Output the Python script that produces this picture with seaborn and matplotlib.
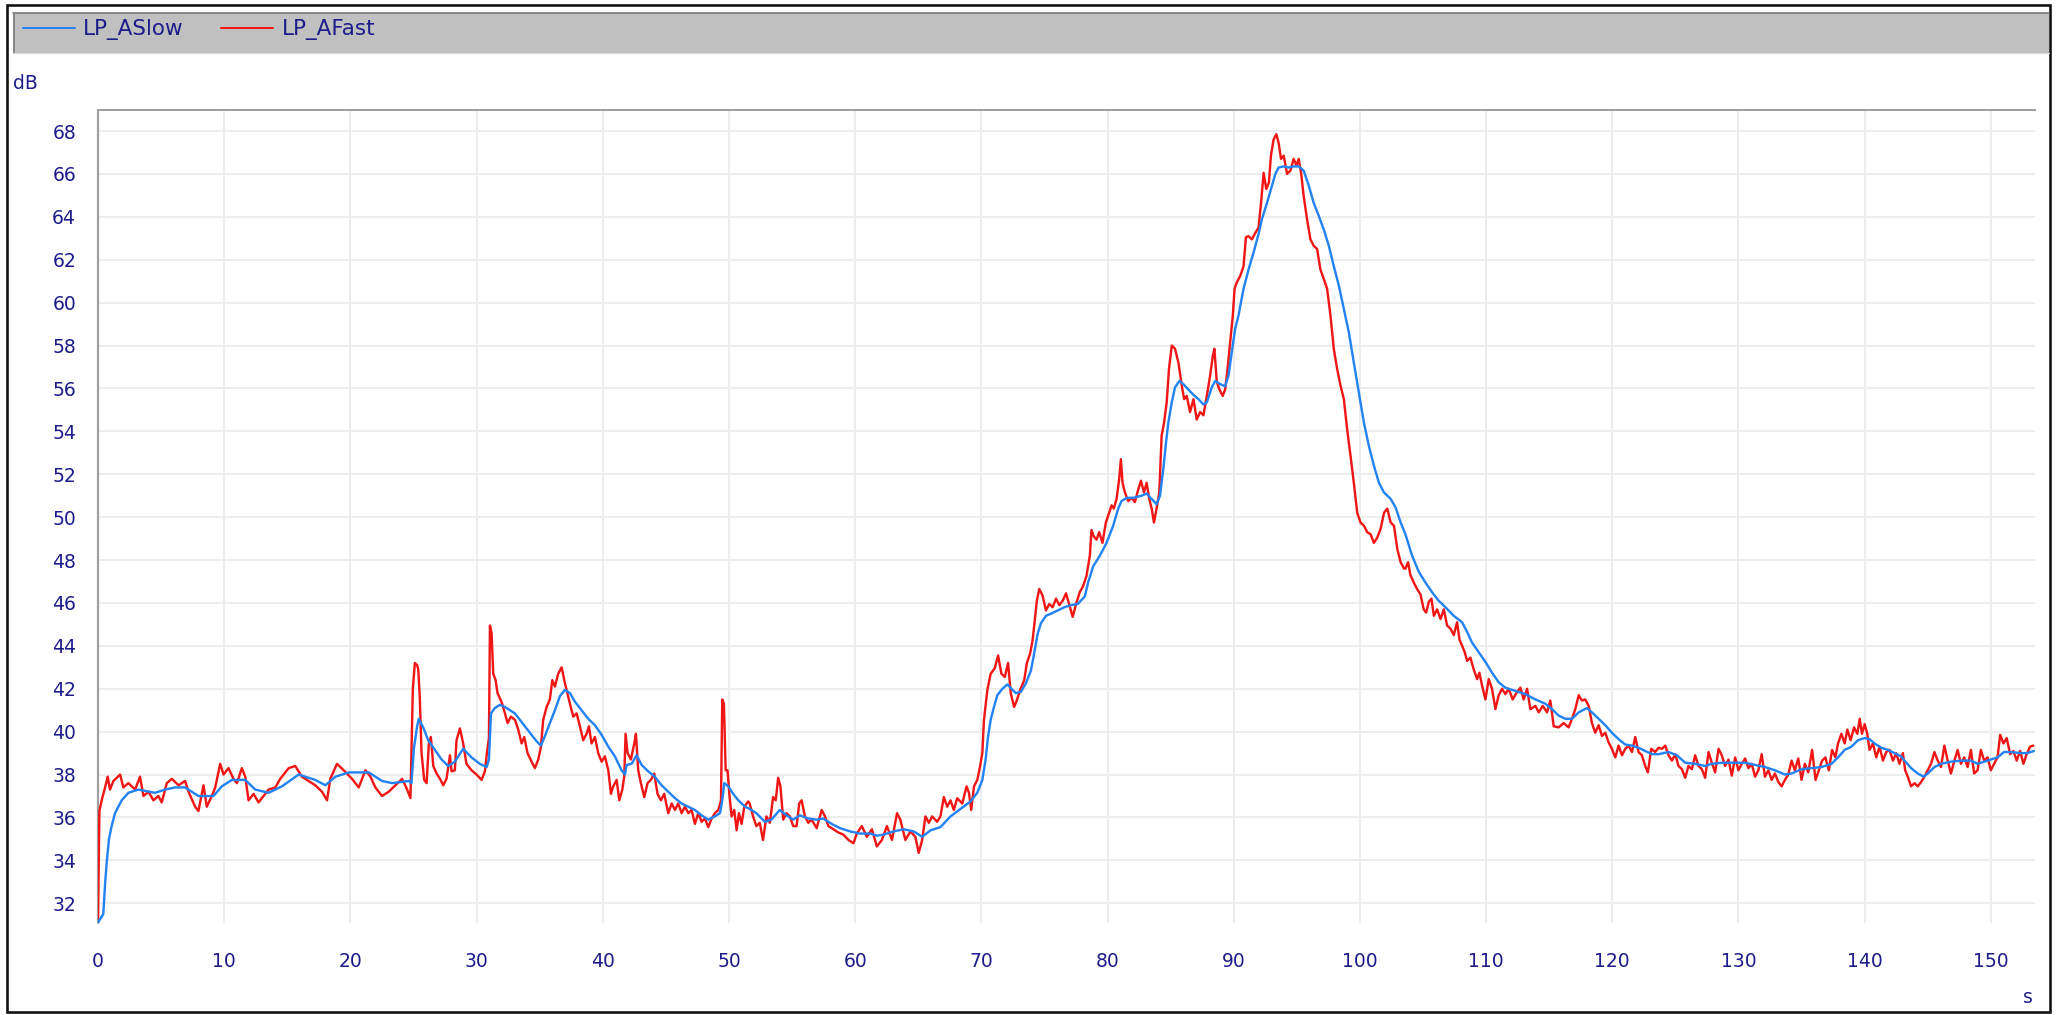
import matplotlib
matplotlib.use("Agg")
import matplotlib.pyplot as plt
from matplotlib.patches import Rectangle
from matplotlib.lines import Line2D
import pandas as pd
import seaborn as sns

# ---- sound level recording: A-weighted level, slow and fast time weighting ----
slow_t = [
    0.0, 0.42, 0.56, 0.69, 0.87, 1.08, 1.35, 1.61, 1.88, 2.41, 3.2, 4.52, 5.32, 6.11, 6.9, 7.96,
    9.15, 9.81, 10.61, 11.67, 12.46, 13.52, 14.58, 15.9, 17.22, 18.02, 18.81, 19.87, 21.46, 22.51,
    23.31, 24.63, 24.84, 25.03, 25.29, 25.42,
    25.77, 26.17, 26.7, 27.23, 27.75, 28.28, 28.94, 29.6, 30.26, 30.8, 30.98, 31.14, 31.45, 31.85,
    32.25, 32.64, 33.04, 33.43, 33.83, 34.36, 34.76, 35.1, 35.42, 35.81, 36.21, 36.6, 37.0, 37.4,
    37.79, 38.32, 38.85, 39.38, 39.91, 40.44, 40.96, 41.49, 41.76, 41.89, 42.29, 42.68, 43.08, 43.6,
    44.13, 44.66, 45.19, 45.72, 46.25, 46.78, 47.3, 47.83, 48.36, 48.89, 49.29, 49.47, 49.63, 49.95,
    50.34, 50.74, 51.27,
    51.64, 52.17, 52.84, 53.37, 54.03, 54.56, 55.09, 55.62, 56.29, 56.95, 57.48, 58.14, 58.81, 59.6,
    60.4, 61.19, 61.72, 62.25, 63.05, 63.85, 64.64, 65.31, 65.97, 66.76, 67.56, 68.36, 69.15, 69.68,
    70.08, 70.34, 70.53, 70.74, 71.0, 71.27, 71.67, 72.07, 72.47, 72.73, 73.13, 73.53, 73.93, 74.19,
    74.46, 74.72, 75.12, 75.52, 76.05, 76.58, 77.11, 77.64,
    78.2, 78.46, 78.86, 79.39, 79.92, 80.45, 80.85, 81.11, 81.51, 82.04, 82.7, 83.1, 83.5, 83.89,
    84.16, 84.42, 84.64, 84.82, 85.09, 85.35, 85.7, 86.01, 86.41, 86.81, 87.21, 87.6, 87.87, 88.26,
    88.53, 88.93, 89.32, 89.59, 89.85, 90.12, 90.38, 90.78, 91.18, 91.58, 91.97, 92.24, 92.64, 93.03,
    93.3, 93.56, 93.96, 94.36, 94.75, 95.15, 95.55, 95.95, 96.34, 96.74, 97.14, 97.54, 97.93, 98.33,
    98.73, 99.13, 99.52, 99.92, 100.32, 100.72, 101.11, 101.51, 101.91, 102.44, 102.83, 103.23,
    103.61, 104.14, 104.67, 105.2, 105.72, 106.25, 106.78, 107.44, 108.1, 108.5, 108.89, 109.42,
    109.95, 110.47, 111.0, 111.53, 112.32, 113.11, 113.91, 114.7, 115.22, 115.75, 116.28, 116.81,
    117.34, 117.99, 118.39, 118.92, 119.45, 119.97, 120.5, 121.03, 121.56, 122.08, 122.61, 123.14,
    123.67, 124.46, 125.12, 125.78, 126.57, 127.36, 127.89, 128.68, 129.47,
    130.53, 131.32, 132.1, 132.89, 133.68, 134.21, 135.0, 135.79, 136.58, 137.37, 137.89, 138.42,
    138.95, 139.47, 140.0, 140.39, 140.79, 141.32, 141.84, 142.37, 142.89, 143.16, 143.68, 144.21,
    144.68, 145.0, 145.53, 146.05, 146.84, 147.63, 148.42, 148.95, 149.74, 150.53, 151.05, 151.58,
    152.37, 152.89, 153.42,
]
slow_db = [
    31.1, 31.5, 32.9, 33.9, 35.0, 35.6, 36.2, 36.5, 36.8, 37.15, 37.3, 37.15, 37.3, 37.4, 37.4, 37.0,
    37.0, 37.45, 37.75, 37.75, 37.3, 37.15, 37.45, 38.0, 37.75, 37.5, 37.9, 38.1, 38.1, 37.7,
    37.6, 37.7, 37.6, 39.2, 40.25, 40.6,
    40.2, 39.6, 39.15, 38.7, 38.4, 38.6, 39.2, 38.8, 38.5, 38.35, 38.7, 40.85, 41.1, 41.25,
    41.15, 41.0, 40.85, 40.55, 40.25, 39.85, 39.55, 39.35, 39.8, 40.4, 41.0, 41.65, 41.95, 41.8,
    41.4, 41.0, 40.6, 40.3, 39.85, 39.3, 38.85, 38.2, 38.0, 38.45, 38.5, 38.9, 38.45, 38.15,
    37.9, 37.5, 37.2, 36.9, 36.65, 36.5, 36.35, 36.1, 35.9, 36.05, 36.2, 36.8, 37.6, 37.45,
    37.1, 36.8, 36.5,
    36.4, 36.2, 35.8, 35.9, 36.35, 36.1, 35.9, 36.1, 35.95, 35.9, 35.95, 35.7, 35.5, 35.35,
    35.25, 35.25, 35.15, 35.2, 35.35, 35.45, 35.35, 35.1, 35.4, 35.55, 36.05, 36.4, 36.75, 37.15,
    37.75, 38.7, 39.75, 40.55, 41.15, 41.7, 42.0, 42.2, 41.95, 41.8, 41.85, 42.25, 42.85, 43.65,
    44.55, 45.05, 45.4, 45.5, 45.65, 45.8, 45.9, 45.95,
    46.3, 46.95, 47.7, 48.2, 48.8, 49.6, 50.4, 50.75, 50.9, 50.9, 51.0, 51.1, 50.85, 50.6,
    51.0, 52.25, 53.5, 54.4, 55.35, 56.05, 56.35, 56.2, 55.95, 55.7, 55.5, 55.25, 55.35, 56.05,
    56.35, 56.2, 56.1, 56.6, 57.7, 58.8, 59.4, 60.65, 61.55, 62.35, 63.2, 63.9, 64.65, 65.45,
    66.0, 66.3, 66.35, 66.3, 66.35, 66.35, 66.15, 65.45, 64.65, 64.05, 63.4, 62.65, 61.7, 60.8,
    59.7, 58.6, 57.2, 55.8, 54.4, 53.3, 52.4, 51.6, 51.15, 50.85, 50.45, 49.75,
    49.2, 48.2, 47.45, 46.95, 46.5, 46.1, 45.8, 45.4, 45.1, 44.65, 44.15, 43.7,
    43.25, 42.75, 42.3, 42.05, 41.9, 41.75, 41.5, 41.3, 41.05, 40.75, 40.6, 40.6,
    40.9, 41.1, 40.9, 40.6, 40.3, 39.95, 39.65, 39.4, 39.35, 39.25, 39.1, 38.95,
    38.95, 39.05, 38.9, 38.55, 38.5, 38.4, 38.5, 38.55, 38.55,
    38.55, 38.45, 38.35, 38.2, 38.0, 38.05, 38.25, 38.3, 38.35, 38.5, 38.8, 39.15,
    39.3, 39.6, 39.7, 39.65, 39.45, 39.25, 39.15, 39.0, 38.85, 38.65, 38.3, 38.05,
    37.9, 38.05, 38.35, 38.5, 38.6, 38.65, 38.65, 38.5, 38.65, 38.8, 39.05, 39.05,
    39.0, 39.0, 39.1,
]

fast_t = [
    0.0, 0.11, 0.29, 0.56, 0.77, 0.95, 1.22, 1.75, 2.01, 2.41, 2.94, 3.33, 3.6, 4.0, 4.39, 4.79,
    5.05, 5.45, 5.85, 6.38, 6.9, 7.17, 7.7, 7.96, 8.36, 8.62, 9.02, 9.29, 9.68, 9.95, 10.34, 10.74,
    11.01, 11.4, 11.67, 11.93, 12.33, 12.72, 13.12, 13.52, 14.05, 14.44, 15.11, 15.63, 16.16, 16.69,
    17.22, 17.75, 18.15, 18.41, 18.94, 19.47, 20.13, 20.66, 21.19, 21.59, 21.98, 22.51, 23.04, 23.57,
    24.1, 24.5, 24.76, 24.84, 24.95, 25.11, 25.29,
    25.38, 25.5, 25.64, 25.85, 26.04, 26.22, 26.38, 26.57, 26.83, 27.1, 27.36, 27.62, 27.89, 28.02,
    28.28, 28.41, 28.68, 28.94, 29.2, 29.6, 30.0, 30.4, 30.66, 30.85, 30.98, 31.06, 31.19, 31.32,
    31.51, 31.66, 31.85, 32.03, 32.25, 32.46, 32.72, 33.04, 33.3, 33.57, 33.78, 34.04, 34.36, 34.62,
    34.89, 35.1, 35.28, 35.55, 35.81, 36.0, 36.21, 36.47, 36.74, 36.95, 37.13, 37.4, 37.66, 37.93,
    38.19, 38.45, 38.72, 38.9, 39.11, 39.38, 39.64, 39.91, 40.17, 40.44, 40.65, 40.83, 41.1, 41.31,
    41.55, 41.7, 41.81, 41.97, 42.23, 42.5, 42.63, 42.81, 43.02, 43.29, 43.55, 43.81, 44.08, 44.34,
    44.61, 44.87, 45.19, 45.46, 45.72, 45.98, 46.25, 46.51, 46.78, 47.04, 47.3, 47.57, 47.83, 48.1,
    48.36, 48.63, 48.89, 49.16, 49.37, 49.47, 49.6, 49.74, 49.89, 50.03, 50.21, 50.42, 50.61, 50.79,
    51.0, 51.22, 51.53,
    51.64, 51.91, 52.17, 52.44, 52.7, 52.97, 53.24, 53.5, 53.71, 53.9, 54.08, 54.3, 54.56, 54.83,
    55.09, 55.36, 55.57, 55.76, 56.02, 56.29, 56.55, 56.95, 57.35, 57.61, 57.88, 58.28, 58.67, 59.07,
    59.47, 59.87, 60.13, 60.53, 60.93, 61.33, 61.72, 62.12, 62.52, 62.92, 63.32, 63.58, 63.98, 64.38,
    64.77, 65.04, 65.31, 65.57, 65.84, 66.1, 66.5, 66.76, 67.03, 67.29, 67.56, 67.82, 68.09, 68.49,
    68.83, 69.02, 69.2, 69.42, 69.68, 69.89, 70.08, 70.21, 70.48, 70.74, 71.06, 71.33, 71.59, 71.86,
    72.12, 72.33, 72.6, 72.81, 73.08, 73.4, 73.61, 73.87, 74.06, 74.24, 74.4, 74.59, 74.85, 75.12,
    75.38, 75.65, 75.92, 76.18, 76.45, 76.71, 76.98, 77.24, 77.51,
    77.8, 78.07, 78.33, 78.6, 78.73, 78.91, 79.13, 79.34, 79.6, 79.87, 80.13, 80.32, 80.5, 80.72,
    80.93, 81.06, 81.19, 81.38, 81.64, 81.91, 82.17, 82.44, 82.65, 82.89, 83.1, 83.31, 83.5, 83.68,
    83.89, 84.1, 84.29, 84.48, 84.69, 84.87, 85.09, 85.35, 85.62, 85.88, 86.07, 86.28, 86.54, 86.81,
    87.07, 87.34, 87.6, 87.87, 88.13, 88.34, 88.47, 88.66, 88.87, 89.13, 89.32, 89.51, 89.72, 89.93,
    90.07, 90.25, 90.52, 90.78, 90.97, 91.18, 91.44, 91.71, 91.97, 92.19, 92.37, 92.58, 92.79, 92.95,
    93.16, 93.38, 93.56, 93.75, 93.96, 94.23, 94.49, 94.75, 94.97, 95.15, 95.34, 95.55, 95.81, 96.08,
    96.34, 96.61, 96.87, 97.14, 97.4, 97.67, 97.93, 98.2, 98.46, 98.73, 98.99, 99.26, 99.52, 99.79,
    100.05, 100.32, 100.58, 100.85, 101.11, 101.38, 101.64, 101.91, 102.17, 102.44, 102.7, 102.97,
    103.23, 103.5,
    103.61, 103.82, 104.0, 104.27, 104.53, 104.8, 105.06, 105.25, 105.46, 105.67, 105.86, 106.12,
    106.39, 106.65, 106.91, 107.18, 107.44, 107.7, 107.89, 108.1, 108.31, 108.5, 108.76, 109.02,
    109.29, 109.47, 109.68, 109.95, 110.21, 110.47, 110.74, 111.0, 111.27, 111.53, 111.79, 112.11,
    112.45, 112.72, 112.98, 113.25, 113.51, 113.91, 114.17, 114.49, 114.83, 115.09, 115.36, 115.75,
    116.15, 116.54, 116.81, 117.07, 117.34, 117.6, 117.86, 118.13, 118.39, 118.65, 118.92, 119.18,
    119.45, 119.71, 119.97, 120.24, 120.5, 120.77, 121.03, 121.29, 121.56, 121.82, 122.08, 122.35,
    122.61, 122.82, 123.09, 123.4, 123.67, 123.94, 124.2, 124.46, 124.73, 124.99, 125.25, 125.52,
    125.78, 126.04, 126.31, 126.57, 126.83, 127.1, 127.36, 127.63, 127.89, 128.15, 128.42, 128.68,
    128.94, 129.21, 129.47,
    129.74, 130.0, 130.26, 130.53, 130.79, 131.05, 131.32, 131.58, 131.84, 132.1, 132.37, 132.63,
    132.89, 133.16, 133.42, 133.68, 133.95, 134.21, 134.47, 134.74, 135.0, 135.26, 135.53, 135.84,
    136.11, 136.37, 136.63, 136.89, 137.16, 137.42, 137.68, 137.89, 138.16, 138.42, 138.63, 138.89,
    139.16, 139.42, 139.61, 139.79, 140.0, 140.21, 140.39, 140.66, 140.92, 141.18, 141.45, 141.71,
    141.97, 142.24, 142.5, 142.76, 143.03, 143.21, 143.42, 143.68, 143.95, 144.21, 144.47, 144.74,
    145.0, 145.26, 145.53, 145.79, 146.05, 146.32, 146.58, 146.84, 147.11, 147.37, 147.63, 147.89,
    148.16, 148.42, 148.68, 148.95, 149.21, 149.47, 149.74, 150.0, 150.26, 150.53, 150.74, 151.0,
    151.26, 151.53, 151.79, 152.05, 152.32, 152.58, 152.84, 153.11, 153.37,
]
fast_db = [
    31.1, 36.3, 36.8, 37.4, 37.9, 37.3, 37.7, 38.0, 37.4, 37.6, 37.3, 37.9, 37.0, 37.2, 36.8, 37.0,
    36.7, 37.6, 37.8, 37.5, 37.7, 37.2, 36.5, 36.3, 37.5, 36.5, 37.0, 37.4, 38.5, 38.0, 38.3, 37.8,
    37.6, 38.3, 37.9, 36.8, 37.1, 36.7, 37.0, 37.3, 37.4, 37.8, 38.3, 38.4, 37.9, 37.7,
    37.5, 37.2, 36.8, 37.8, 38.5, 38.2, 37.8, 37.4, 38.2, 37.9, 37.4, 37.0, 37.2, 37.5,
    37.8, 37.3, 36.9, 39.0, 42.0, 43.2, 43.1,
    42.9, 41.6, 39.0, 37.75, 37.6, 39.45, 39.75, 38.4, 38.05, 37.8, 37.5, 37.8, 38.9, 38.15,
    38.2, 39.6, 40.15, 39.45, 38.5, 38.2, 38.0, 37.75, 38.15, 39.15, 39.7, 44.95, 44.6, 42.7,
    42.4, 41.8, 41.55, 41.3, 40.85, 40.4, 40.7, 40.55, 40.1, 39.45, 39.75, 39.0, 38.6, 38.3,
    38.7, 39.3, 40.55, 41.15, 41.5, 42.4, 42.1, 42.7, 43.0, 42.4, 41.95, 41.3, 40.7, 40.85,
    40.25, 39.6, 39.9, 40.25, 39.45, 39.75, 39.0, 38.6, 38.85, 38.2, 37.1, 37.45, 37.75, 36.8,
    37.3, 37.9, 39.9, 39.0, 38.7, 39.45, 39.9, 38.2, 37.6, 36.95, 37.6, 37.75, 38.05, 37.1,
    36.8, 37.1, 36.2, 36.65, 36.35, 36.65, 36.2, 36.5, 36.2, 36.35, 35.7, 36.2, 35.8, 35.95,
    35.55, 35.95, 36.2, 36.35, 36.8, 41.5, 41.3, 38.2, 38.2, 37.1, 36.05, 36.35, 35.4, 36.2,
    35.7, 36.5, 36.75,
    36.65, 36.05, 35.6, 35.75, 34.95, 36.05, 35.75, 36.95, 36.8, 37.85, 37.45, 35.9, 36.2, 36.05,
    35.6, 35.6, 36.65, 36.8, 36.05, 35.75, 35.9, 35.5, 36.35, 36.05, 35.6, 35.45, 35.3, 35.2,
    34.95, 34.8, 35.25, 35.6, 35.1, 35.45, 34.65, 34.95, 35.6, 34.95, 36.2, 35.9, 34.95, 35.35,
    35.1, 34.35, 34.95, 36.05, 35.75, 36.05, 35.8, 36.05, 36.95, 36.5, 36.8, 36.35, 36.9, 36.65,
    37.45, 37.15, 36.35, 37.45, 37.75, 38.35, 39.0, 40.55, 41.95, 42.7, 42.95, 43.55, 42.7, 42.55,
    43.2, 41.8, 41.15, 41.45, 41.95, 42.4, 43.2, 43.65, 44.25, 45.2, 46.1, 46.65, 46.35, 45.65,
    45.95, 45.8, 46.2, 45.9, 46.1, 46.45, 45.9, 45.35, 45.95,
    46.5, 46.8, 47.25, 48.2, 49.4, 49.1, 48.95, 49.3, 48.8, 49.75, 50.2, 50.55, 50.4, 50.85,
    51.8, 52.7, 51.6, 51.15, 50.75, 50.9, 50.7, 51.3, 51.7, 51.15, 51.6, 50.85, 50.4, 49.75,
    50.4, 51.15, 53.8, 54.4, 55.35, 56.9, 58.0, 57.85, 57.2, 56.15, 55.5, 55.65, 54.9, 55.5,
    54.55, 54.9, 54.75, 55.65, 56.6, 57.5, 57.85, 56.3, 55.95, 55.65, 55.95, 56.9, 58.15, 59.4,
    60.65, 60.95, 61.25, 61.7, 63.05, 63.1, 62.95, 63.25, 63.5, 64.8, 66.05, 65.3, 65.6, 66.85,
    67.6, 67.85, 67.45, 66.7, 66.85, 66.0, 66.15, 66.7, 66.4, 66.7, 66.05, 64.95, 63.9, 62.95,
    62.65, 62.5, 61.55, 61.1, 60.65, 59.4, 57.85, 56.9, 56.15, 55.5, 54.1, 52.85, 51.6, 50.2,
    49.75, 49.6, 49.3, 49.2, 48.8, 49.05, 49.45, 50.2, 50.4, 49.75, 49.6, 48.5,
    47.9, 47.6,
    47.6, 47.9, 47.3, 46.95, 46.65, 46.4, 45.7, 45.55, 46.05, 46.2, 45.4, 45.7,
    45.25, 45.7, 44.95, 44.8, 44.5, 45.1, 44.3, 44.0, 43.7, 43.3, 43.45, 42.9,
    42.45, 42.75, 42.15, 41.5, 42.45, 42.0, 41.05, 41.7, 42.0, 41.75, 42.0, 41.5,
    41.85, 42.05, 41.5, 42.0, 41.05, 41.2, 40.9, 41.2, 40.9, 41.45, 40.25, 40.2,
    40.4, 40.2, 40.6, 41.05, 41.7, 41.45, 41.5, 41.2, 40.4, 39.95, 40.3, 39.8,
    39.95, 39.5, 39.2, 38.8, 39.35, 38.9, 39.2, 39.35, 39.05, 39.75, 39.05, 38.9,
    38.4, 38.1, 39.2, 39.05, 39.25, 39.2, 39.35, 38.9, 38.65, 38.95, 38.4, 38.25,
    37.85, 38.4, 38.25, 38.9, 38.4, 38.25, 37.85, 39.05, 38.55, 38.1, 39.2, 38.9,
    38.4, 38.7, 37.95,
    38.8, 38.2, 38.5, 38.75, 38.3, 38.5, 37.9, 38.2, 38.95, 37.9, 38.2, 37.75,
    38.05, 37.65, 37.45, 37.75, 38.0, 38.65, 38.2, 38.75, 37.75, 38.5, 38.1, 39.15,
    37.75, 38.2, 38.65, 38.8, 38.2, 39.15, 38.8, 39.45, 39.9, 39.45, 40.1, 39.6,
    40.2, 39.9, 40.6, 39.9, 40.35, 39.9, 39.15, 39.45, 38.8, 39.3, 38.65, 39.05,
    39.15, 38.65, 39.0, 38.5, 39.0, 38.2, 37.9, 37.45, 37.6, 37.45, 37.65, 37.9,
    38.2, 38.5, 39.05, 38.65, 38.35, 39.35, 38.65, 38.05, 38.65, 39.15, 38.5, 38.8,
    38.35, 39.15, 38.05, 38.2, 39.15, 38.65, 38.8, 38.2, 38.5, 38.8, 39.85, 39.45,
    39.7, 38.95, 39.1, 38.65, 39.1, 38.5, 38.95, 39.3, 39.35,
]

series_names = ["LP_ASlow", "LP_AFast"]
series_colors = {"LP_ASlow": "#2383f2", "LP_AFast": "#f01616"}
x_ticks = list(range(0, 151, 10))
y_ticks = list(range(32, 69, 2))
x_unit = "s"
y_unit = "dB"

df = pd.concat([
    pd.DataFrame({"time": slow_t, "level": slow_db, "series": "LP_ASlow"}),
    pd.DataFrame({"time": fast_t, "level": fast_db, "series": "LP_AFast"}),
], ignore_index=True)

# ---- figure setup ----
W, H = 2060, 1015
sns.set_style("white")
plt.rcParams["font.family"] = ["DejaVu Sans"]
ink = "#1c1c8a"
px = 0.72  # points per pixel at 100 dpi

fig = plt.figure(figsize=(W / 100, H / 100), dpi=100)
fig.patch.set_facecolor("white")

# outer frame and grey header bar with the legend
fig.add_artist(Rectangle((7 / W, 1 - 1012 / H), 2043 / W, 1007 / H, transform=fig.transFigure,
                         fill=False, edgecolor="#111111", linewidth=2.6 * px))
fig.add_artist(Rectangle((13 / W, 1 - 53 / H), 2036 / W, 40 / H, transform=fig.transFigure,
                         facecolor="#c0c0c0", edgecolor="none"))
fig.add_artist(Line2D([13 / W, 2049 / W], [1 - 13 / H, 1 - 13 / H], transform=fig.transFigure,
                      color="#7a7a7a", linewidth=1.6 * px))
fig.add_artist(Line2D([13.5 / W, 13.5 / W], [1 - 13 / H, 1 - 53 / H], transform=fig.transFigure,
                      color="#7a7a7a", linewidth=1.6 * px))
fig.add_artist(Line2D([13 / W, 2049 / W], [1 - 53 / H, 1 - 53 / H], transform=fig.transFigure,
                      color="#d8d8d8", linewidth=1.2 * px))

# plot area
ax_left, ax_right, ax_top, ax_bottom = 98, 2035, 110, 923
ax = fig.add_axes([ax_left / W, 1 - ax_bottom / H, (ax_right - ax_left) / W, (ax_bottom - ax_top) / H])
ax.set_facecolor("white")

sns.lineplot(data=df, x="time", y="level", hue="series", hue_order=["LP_AFast", "LP_ASlow"],
             palette=series_colors, estimator=None, legend=False, linewidth=2.4 * px, ax=ax)

ax.set_xlim(0, 153.5)
ax.set_ylim(31.08, 68.98)
ax.set_xticks(x_ticks)
ax.set_yticks(y_ticks)
ax.set_xlabel("")
ax.set_ylabel("")
ax.grid(True, color="#ececec", linewidth=1.8 * px)
ax.set_axisbelow(True)

# ticks sit a few pixels away from the plot frame
for side in ("right", "bottom", "left"):
    ax.spines[side].set_color("none")
ax.spines["left"].set_position(("outward", 7 * px))
ax.spines["bottom"].set_position(("outward", 9 * px))
ax.spines["top"].set_color("#a0a0a0")
ax.spines["top"].set_linewidth(2.0 * px)
ax.add_line(Line2D([0, 0], [0, 1], transform=ax.transAxes, color="#a0a0a0",
                   linewidth=2.2 * px, clip_on=False, zorder=1.5))

ax.tick_params(axis="x", direction="out", length=8 * px, width=1.5 * px, pad=12 * px,
               colors=ink, labelsize=13.5)
ax.tick_params(axis="y", direction="out", length=9 * px, width=1.5 * px, pad=6 * px,
               colors=ink, labelsize=13.5)

# unit labels
fig.text(13 / W, 1 - 89 / H, y_unit, color=ink, fontsize=13.5, ha="left", va="baseline")
fig.text(2033 / W, 1 - 1003 / H, x_unit, color=ink, fontsize=13.5, ha="right", va="baseline")

# legend inside the header bar
handles = [Line2D([], [], color=series_colors[n], linewidth=2.0 * px) for n in series_names]
fig.legend(handles, series_names, loc="center left", bbox_to_anchor=(23 / W, 1 - 30 / H),
           bbox_transform=fig.transFigure, ncol=2, frameon=False, fontsize=15.5,
           labelcolor=ink, borderpad=0, borderaxespad=0, handlelength=2.42,
           handletextpad=0.37, columnspacing=1.75)

fig.savefig("out.png", dpi=100, facecolor="white")
